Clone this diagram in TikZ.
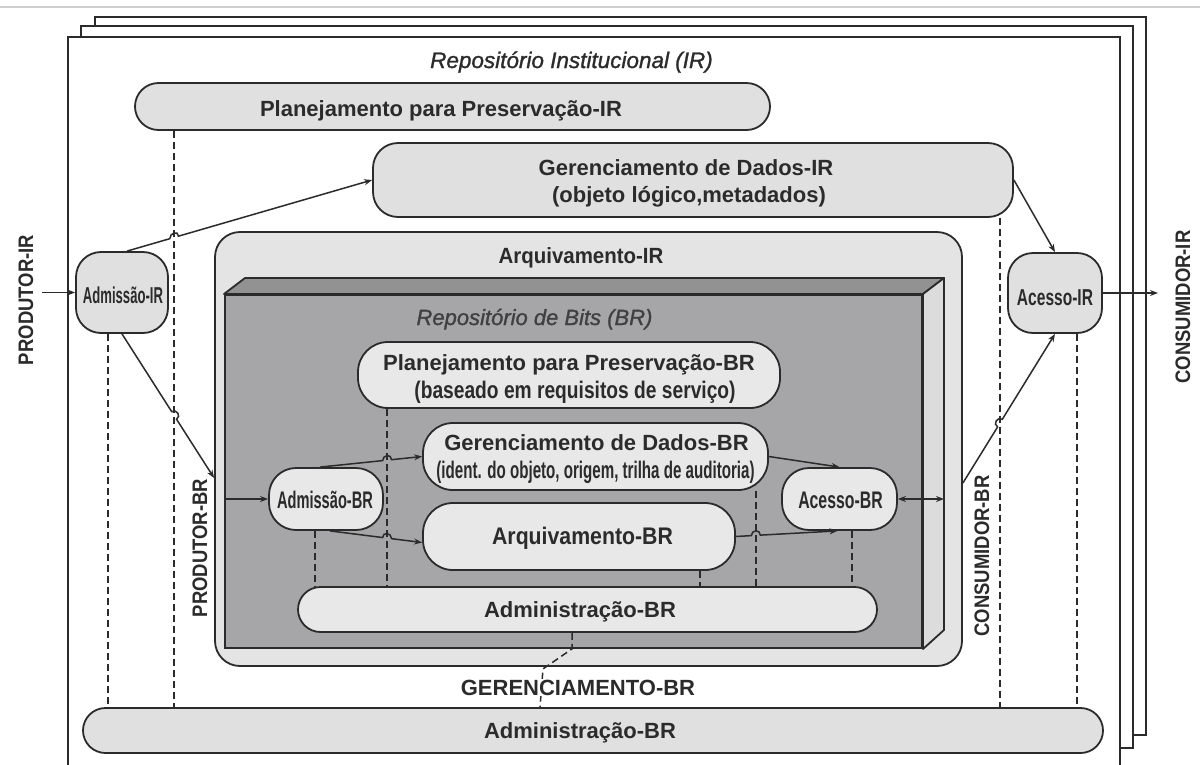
\documentclass[tikz,border=0pt]{standalone}
\usepackage{fontspec}
\setmainfont{Liberation Sans}
\newfontfamily\semiit[FakeBold=1.2]{Liberation Sans Italic}
\usepackage{graphicx}
\usetikzlibrary{arrows.meta,calc}

\definecolor{ink}{HTML}{2B2B2B}
\definecolor{boxfill}{HTML}{E0E0E0}
\definecolor{arqfill}{HTML}{E4E4E4}
\definecolor{brfill}{HTML}{E8E8E8}
\definecolor{brfront}{HTML}{A6A6A8}
\definecolor{brtop}{HTML}{929292}
\definecolor{brside}{HTML}{DCDCDC}
\definecolor{topline}{HTML}{CFCFCF}

\newcommand{\hsc}[2]{\scalebox{#1}[1]{#2}}
\newcommand{\fsz}[1]{\fontsize{#1}{#1}\selectfont}
\newcommand{\hopline}[6]{%
  \path (intersection of #2--#3 and #4--#5) coordinate (hopX);
  \draw[#1] (#2) -- ($(hopX)!4.5pt!(#2)$) .. controls +(#6) and +(#6) .. ($(hopX)!4.5pt!(#3)$) -- (#3);
}

\tikzset{
  frame/.style={draw=ink, line width=2pt, fill=white},
  box/.style={draw=ink, line width=1.8pt, fill=boxfill, inner sep=0pt},
  brbox/.style={box, fill=brfill},
  lbl/.style={text=ink, anchor=base, inner sep=0pt, font={\bfseries\fsz{22}}},
  vlbl/.style={lbl, rotate=90, font={\bfseries\fsz{21}}},
  dsh/.style={draw=ink, line width=1.5pt, dash pattern=on 7pt off 4pt},
  arr/.style={draw=ink, line width=1.5pt, -{Stealth[length=8pt,width=6pt]}},
  darr/.style={draw=ink, line width=1.5pt, {Stealth[length=8pt,width=6pt]}-{Stealth[length=8pt,width=6pt]}},
}

\begin{document}
\begin{tikzpicture}[x=1pt,y=-1pt]
\useasboundingbox (0,0) rectangle (1200,764);
\clip (0,0) rectangle (1200,764);
\fill[white] (0,0) rectangle (1200,764);
\draw[topline, line width=2pt] (0,7) -- (1200,7);

% stacked frames
\draw[frame] (95,17) rectangle (1146,735);
\draw[frame] (81,26) rectangle (1133,748);
\draw[frame] (68,37) rectangle (1120,790);

\node[lbl, font={\semiit\fsz{22.5}}] (tIR) at (571.5,68) {Repositório Institucional (IR)};

% IR level boxes
\node[box, minimum width=635pt, minimum height=47pt, rounded corners=23.5pt] (planIR) at (452.5,106.5) {};
\node[box, minimum width=640pt, minimum height=74pt, rounded corners=25pt] (gerIR) at (693,180) {};
\node[box, fill=arqfill, minimum width=747pt, minimum height=434pt, rounded corners=25pt] (arqIR) at (588.5,449) {};
\node[box, minimum width=92pt, minimum height=81pt, rounded corners=25pt] (admIR) at (122,292.5) {};
\node[box, minimum width=94pt, minimum height=80pt, rounded corners=25pt] (acIR) at (1055,293) {};
\node[box, minimum width=1020pt, minimum height=45pt, rounded corners=22.5pt] (admOut) at (593,730.5) {};

% bit repository 3D block
\node[draw=ink, line width=2pt, fill=brfront, minimum width=697pt, minimum height=353pt, inner sep=0pt] (brf) at (573.5,471.5) {};
\coordinate (brbtl) at (245,278);
\coordinate (brbtr) at (944,278);
\coordinate (brbbr) at (944,630);
\draw[draw=ink, line width=1.8pt, fill=brtop, line join=round] (brf.north west) -- (brbtl) -- (brbtr) -- (brf.north east) -- cycle;
\draw[draw=ink, line width=1.8pt, fill=brside, line join=round] (brf.north east) -- (brbtr) -- (brbbr) -- (brf.south east) -- cycle;

% BR boxes
\node[brbox, minimum width=422pt, minimum height=66pt, rounded corners=30pt] (planBR) at (569,375) {};
\node[brbox, minimum width=345pt, minimum height=67pt, rounded corners=30pt] (gerBR) at (595.5,456.5) {};
\node[brbox, minimum width=312pt, minimum height=67pt, rounded corners=30pt] (arqBR) at (579,536.5) {};
\node[brbox, minimum width=114pt, minimum height=62pt, rounded corners=27pt] (admBR) at (326,499) {};
\node[brbox, minimum width=115pt, minimum height=62pt, rounded corners=27pt] (acBR) at (839.5,499) {};
\node[brbox, minimum width=579pt, minimum height=45pt, rounded corners=22.5pt] (admBR2) at (587.5,609.5) {};

% dashed management lines
\coordinate (d1t) at ($(admIR.south)+(-14,0)$);
\coordinate (d2t) at ($(planIR.south west)+(40,0)$);
\coordinate (d3t) at ($(gerIR.south east)+(-14,0)$);
\coordinate (d4t) at ($(acIR.south)+(22,0)$);
\coordinate (d5t) at ($(planBR.south west)+(30,0)$);
\coordinate (d6t) at ($(admBR.south)+(-11,0)$);
\coordinate (d7t) at ($(gerBR.south east)+(-13,0)$);
\coordinate (d8t) at ($(arqBR.south east)+(-36,0)$);
\coordinate (d9t) at ($(acBR.south)+(12.5,0)$);
\coordinate (d1b) at (d1t |- admOut.north);
\coordinate (d2b) at (d2t |- admOut.north);
\coordinate (d3b) at (d3t |- admOut.north);
\coordinate (d4b) at (d4t |- admOut.north);
\coordinate (d5b) at (d5t |- admBR2.north);
\coordinate (d6b) at (d6t |- admBR2.north);
\coordinate (d7b) at (d7t |- admBR2.north);
\coordinate (d8b) at (d8t |- admBR2.north);
\coordinate (d9b) at (d9t |- admBR2.north);
\foreach \i in {1,...,9} {\draw[dsh] (d\i t) -- (d\i b);}
\coordinate (dGt) at ($(admBR2.south)+(-15.5,0)$);
\coordinate (dGb) at ($(admOut.north)+(-53,0)$);
\draw[dsh] (dGt) -- ++(0,16) -- ++(-29,20) -- (dGb);

% IR connectors
\coordinate (pIRin) at (42,292.5);
\draw[arr] (pIRin) -- (admIR.west);
\coordinate (cIRout) at (1158,293);
\draw[arr] (acIR.east) -- (cIRout);
\coordinate (a1s) at ($(admIR.north)+(5,0)$);
\coordinate (a1e) at (gerIR.west);
\hopline{arr}{a1s}{a1e}{d2t}{d2b}{0,-6}
\coordinate (a2s) at (admIR.south);
\coordinate (a2e) at ($(arqIR.west)+(0,29)$);
\hopline{arr}{a2s}{a2e}{d2t}{d2b}{5,-3}
\draw[arr] (gerIR.east) -- (acIR.north);
\coordinate (a4s) at ($(arqIR.east)+(0,34)$);
\coordinate (a4e) at (acIR.south);
\hopline{arr}{a4s}{a4e}{d3t}{d3b}{-5,-3}

% BR connectors
\coordinate (pBRin) at (brf.west |- admBR.west);
\draw[arr] (pBRin) -- (admBR.west);
\coordinate (brbk) at (brbbr |- acBR.east);
\draw[darr] (acBR.east) -- (brbk);
\coordinate (b1s) at ($(admBR.north)+(-6,0)$);
\coordinate (b1e) at (gerBR.west);
\hopline{arr}{b1s}{b1e}{d5t}{d5b}{0,-6}
\coordinate (b2s) at ($(admBR.south)+(4,0)$);
\coordinate (b2e) at ($(arqBR.west)+(0,6)$);
\hopline{arr}{b2s}{b2e}{d5t}{d5b}{0,-6}
\draw[arr] (gerBR.east) -- (acBR.north);
\coordinate (b4s) at (arqBR.east);
\coordinate (b4e) at ($(acBR.south)+(-2,0)$);
\hopline{arr}{b4s}{b4e}{d7t}{d7b}{0,-6}

% labels
\node[lbl] (tPlanIR) at (441,116) {Planejamento para Preservação-IR};
\node[lbl] (tGerIR1) at (686,175) {Gerenciamento de Dados-IR};
\node[lbl] (tGerIR2) at (689,202) {(objeto lógico,metadados)};
\node[lbl] (tArqIR) at (581,263) {\hsc{0.93}{Arquivamento-IR}};
\node[lbl, font={\semiit\fsz{22}}, text=ink!90] (tBR) at (534.5,325) {Repositório de Bits (BR)};
\node[lbl] (tPlanBR1) at (569,370) {Planejamento para Preservação-BR};
\node[lbl, font={\bfseries\fsz{24}}] (tPlanBR2) at (575,398) {\hsc{0.8}{(baseado em requisitos de serviço)}};
\node[lbl] (tGerBR1) at (596.5,450) {Gerenciamento de Dados-BR};
\node[lbl, font={\bfseries\fsz{24}}] (tGerBR2) at (595.5,478) {\hsc{0.63}{(ident. do objeto, origem, trilha de auditoria)}};
\node[lbl, font={\bfseries\fsz{24}}] (tArqBR) at (582.5,544) {\hsc{0.886}{Arquivamento-BR}};
\node[lbl, font={\bfseries\fsz{24}}] (tAdmBR) at (325,508) {\hsc{0.61}{Admissão-BR}};
\node[lbl, font={\bfseries\fsz{24}}] (tAcBR) at (840.5,508) {\hsc{0.66}{Acesso-BR}};
\node[lbl] (tAdminBR) at (580,617) {Administração-BR};
\node[lbl, fill=white, inner sep=1pt] (tGerenc) at (578,695) {GERENCIAMENTO-BR};
\node[lbl] (tAdmOut) at (580,738) {Administração-BR};
\node[lbl, font={\bfseries\fsz{23}}] (tAdmIR) at (123,303) {\hsc{0.57}{Admissão-IR}};
\node[lbl, font={\bfseries\fsz{23}}] (tAcIR) at (1055,305) {\hsc{0.676}{Acesso-IR}};
\node[vlbl] (tProdIR) at (33,300) {\hsc{0.88}{PRODUTOR-IR}};
\node[vlbl] (tConsIR) at (1190,307) {\hsc{0.88}{CONSUMIDOR-IR}};
\node[vlbl] (tProdBR) at (207,548) {\hsc{0.88}{PRODUTOR-BR}};
\node[vlbl] (tConsBR) at (989,556) {\hsc{0.88}{CONSUMIDOR-BR}};
\end{tikzpicture}
\end{document}
